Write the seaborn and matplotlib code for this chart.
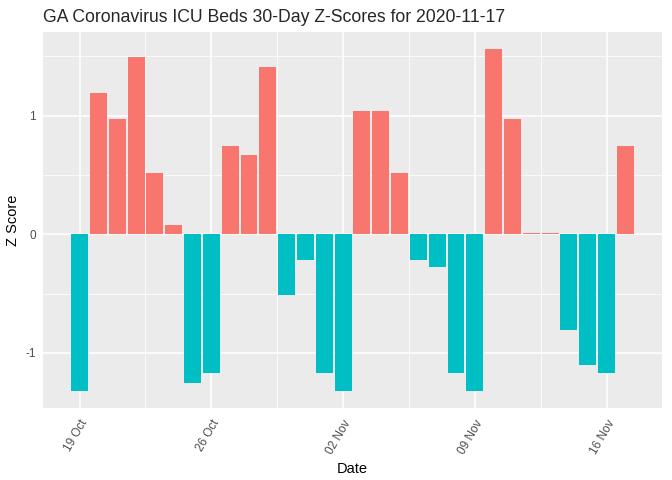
import numpy as np
import pandas as pd
import matplotlib
matplotlib.use("Agg")
import matplotlib.pyplot as plt
import matplotlib.dates as mdates
from matplotlib.ticker import FixedLocator
import seaborn as sns

sns.set_style('darkgrid')
plt.rcParams['font.family'] = ['Liberation Sans', 'DejaVu Sans']

# Data
dates = pd.date_range("2020-10-19", "2020-11-17", freq="D")
z_scores = [-1.32, 1.19, 0.97, 1.49, 0.52, 0.08, -1.25, -1.17, 0.74, 0.67,
            1.41, -0.51, -0.22, -1.17, -1.32, 1.04, 1.04, 0.52, -0.22, -0.28,
            -1.17, -1.32, 1.56, 0.97, 0.01, 0.01, -0.81, -1.10, -1.17, 0.74]
tick_dates = pd.to_datetime(["2020-10-19", "2020-10-26", "2020-11-02", "2020-11-09", "2020-11-16"])

df = pd.DataFrame({"Date": mdates.date2num(dates), "Z": z_scores})
df["neg"] = np.where(df["Z"] < 0, "TRUE", "FALSE")

fig = plt.figure(figsize=(6.72, 4.8), dpi=100)
ax = fig.add_axes([43 / 672, 72 / 480, 619 / 672, 376 / 480])
ax.set_facecolor("#EBEBEB")

sns.barplot(data=df, x="Date", y="Z", hue="neg", hue_order=["FALSE", "TRUE"],
            palette=["#F8766D", "#00BFC4"], native_scale=True, width=0.9,
            dodge=False, legend=False, saturation=1, ax=ax, zorder=3,
            linewidth=0, edgecolor="none")

# ggplot-like expansion
xmin, xmax = df["Date"].min() - 0.45, df["Date"].max() + 0.45
pad = (xmax - xmin) * 0.05
ax.set_xlim(xmin - pad, xmax + pad)
ymin, ymax = min(z_scores), max(z_scores)
ypad = (ymax - ymin) * 0.05
ax.set_ylim(ymin - ypad, ymax + ypad)

major_x = mdates.date2num(tick_dates)
ax.xaxis.set_major_locator(FixedLocator(major_x))
ax.xaxis.set_minor_locator(FixedLocator((major_x[:-1] + major_x[1:]) / 2))
ax.xaxis.set_major_formatter(mdates.DateFormatter("%d %b"))
ax.yaxis.set_major_locator(FixedLocator([-1, 0, 1]))
ax.yaxis.set_minor_locator(FixedLocator([-0.5, 0.5, 1.5]))
ax.set_yticklabels(["-1", "0", "1"])

ax.grid(which="major", color="white", linewidth=1.1, zorder=0)
ax.grid(which="minor", color="white", linewidth=0.55, zorder=0)
ax.set_axisbelow(True)
for s in ax.spines.values():
    s.set_visible(False)

ax.tick_params(which="major", length=3, width=0.8, color="#333333",
               labelsize=8.5, labelcolor="#4D4D4D", pad=2)
ax.tick_params(axis="x", which="major", pad=4)
ax.tick_params(which="minor", length=0)
plt.setp(ax.get_xticklabels(), rotation=60, ha="right", rotation_mode="anchor")

ax.set_xlabel("Date", fontsize=10.5, color="black", labelpad=4)
ax.set_ylabel("Z Score", fontsize=10.5, color="black", labelpad=4)
ax.set_title("GA Coronavirus ICU Beds 30-Day Z-Scores for 2020-11-17",
             fontsize=12.7, loc="left", x=-0.0, pad=7)

fig.savefig("out.png", dpi=100)
